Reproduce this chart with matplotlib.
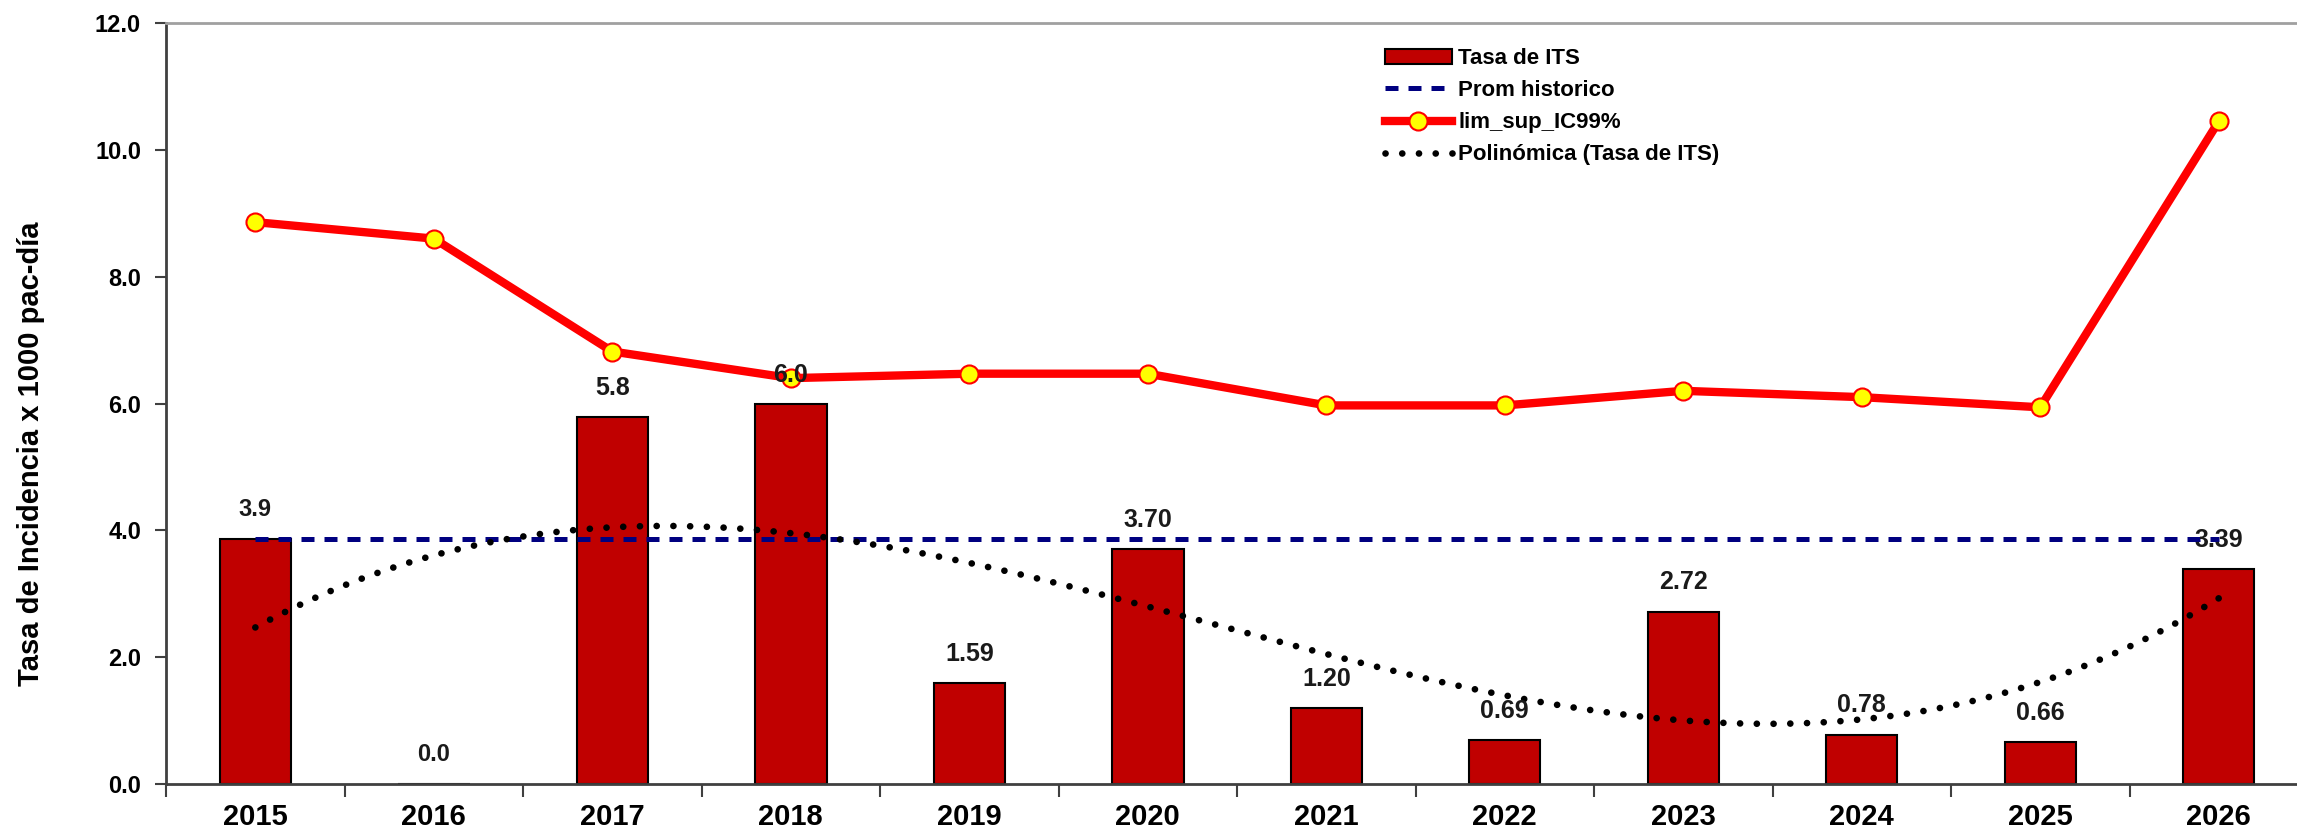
import matplotlib
matplotlib.use("Agg")
import matplotlib.pyplot as plt
import numpy as np
from matplotlib.ticker import FixedLocator, FormatStrFormatter

# data
years = ["2015", "2016", "2017", "2018", "2019", "2020",
         "2021", "2022", "2023", "2024", "2025", "2026"]
tasa_its = [3.87, 0.0, 5.78, 5.99, 1.59, 3.70, 1.20, 0.69, 2.72, 0.78, 0.66, 3.39]
tasa_labels = ["3.9", "0.0", "5.8", "6.0", "1.59", "3.70",
               "1.20", "0.69", "2.72", "0.78", "0.66", "3.39"]
prom_historico = [3.87] * 12
lim_sup_ic99 = [8.86, 8.60, 6.82, 6.40, 6.47, 6.47, 5.97, 5.97, 6.20, 6.10, 5.94, 10.45]
poly_order = 3

plt.rcParams["font.family"] = ["Liberation Sans", "DejaVu Sans"]

fig = plt.figure(figsize=(22.97, 8.30), dpi=100)
ax = fig.add_axes([0.0723, 0.0554, 0.9325, 0.9169])

x = np.arange(len(years))

bars = ax.bar(x, tasa_its, width=0.40, color="#C00000", edgecolor="black",
              linewidth=1.5, label="Tasa de ITS", zorder=2)
prom, = ax.plot(x, prom_historico, color="#000080", linewidth=3.6,
                linestyle=(0, (2.6, 2.0)), label="Prom historico", zorder=3)
lim, = ax.plot(x, lim_sup_ic99, color="#FF0000", linewidth=6,
               marker="o", markersize=13, markerfacecolor="#FFFF00",
               markeredgecolor="#FF0000", markeredgewidth=1.5,
               label="lim_sup_IC99%", zorder=4)

# polynomial trendline (like Excel's), fitted on the bar values
coef = np.polyfit(x + 1, tasa_its, poly_order)
xs = np.linspace(0, len(years) - 1, 300)
trend, = ax.plot(xs, np.polyval(coef, xs + 1), color="black", linewidth=4.8,
                 linestyle=(0, (0.01, 2.5)), dash_capstyle="round",
                 label="Polinómica (Tasa de ITS)", zorder=5)

# value labels above bars
for i, (v, txt) in enumerate(zip(tasa_its, tasa_labels)):
    ax.annotate(txt, (i, v), xytext=(0, 21), textcoords="offset points",
                ha="center", va="center", fontsize=17 if i < 2 else 18,
                fontweight="bold", color="#1a1a1a", zorder=6)

ax.set_xlim(-0.5, len(years) - 0.5)
ax.set_ylim(0, 12)
ax.set_yticks(np.arange(0, 12.1, 2))
ax.yaxis.set_major_formatter(FormatStrFormatter("%.1f"))
ax.set_xticks(x)
ax.set_xticklabels(years)
ax.xaxis.set_minor_locator(FixedLocator(np.arange(-0.5, len(years), 1.0)))
ax.tick_params(axis="x", which="major", length=0, pad=14, labelsize=21)
ax.tick_params(axis="x", which="minor", length=9, width=1.5, color="#404040")
ax.tick_params(axis="y", which="major", length=8, width=1.5, color="#404040",
               labelsize=17, pad=10)
for lbl in ax.get_xticklabels() + ax.get_yticklabels():
    lbl.set_fontweight("bold")

for side in ["left", "bottom"]:
    ax.spines[side].set_color("#404040")
    ax.spines[side].set_linewidth(2)
ax.spines["top"].set_color("#a0a0a0")
ax.spines["top"].set_linewidth(2)
ax.spines["right"].set_visible(False)

fig.text(0.0135, 0.453, "Tasa de Incidencia x 1000 pac-día", rotation=90,
         ha="center", va="center", fontsize=21, fontweight="bold")

fig.legend([bars, prom, lim, trend],
           ["Tasa de ITS", "Prom historico", "lim_sup_IC99%", "Polinómica (Tasa de ITS)"],
           loc="upper left", bbox_to_anchor=(0.6030, 0.942),
           frameon=False, borderpad=0, borderaxespad=0,
           handlelength=3.0, handletextpad=0.3, labelspacing=0.5,
           prop={"weight": "bold", "size": 16})

fig.savefig("out.png", dpi=100)
